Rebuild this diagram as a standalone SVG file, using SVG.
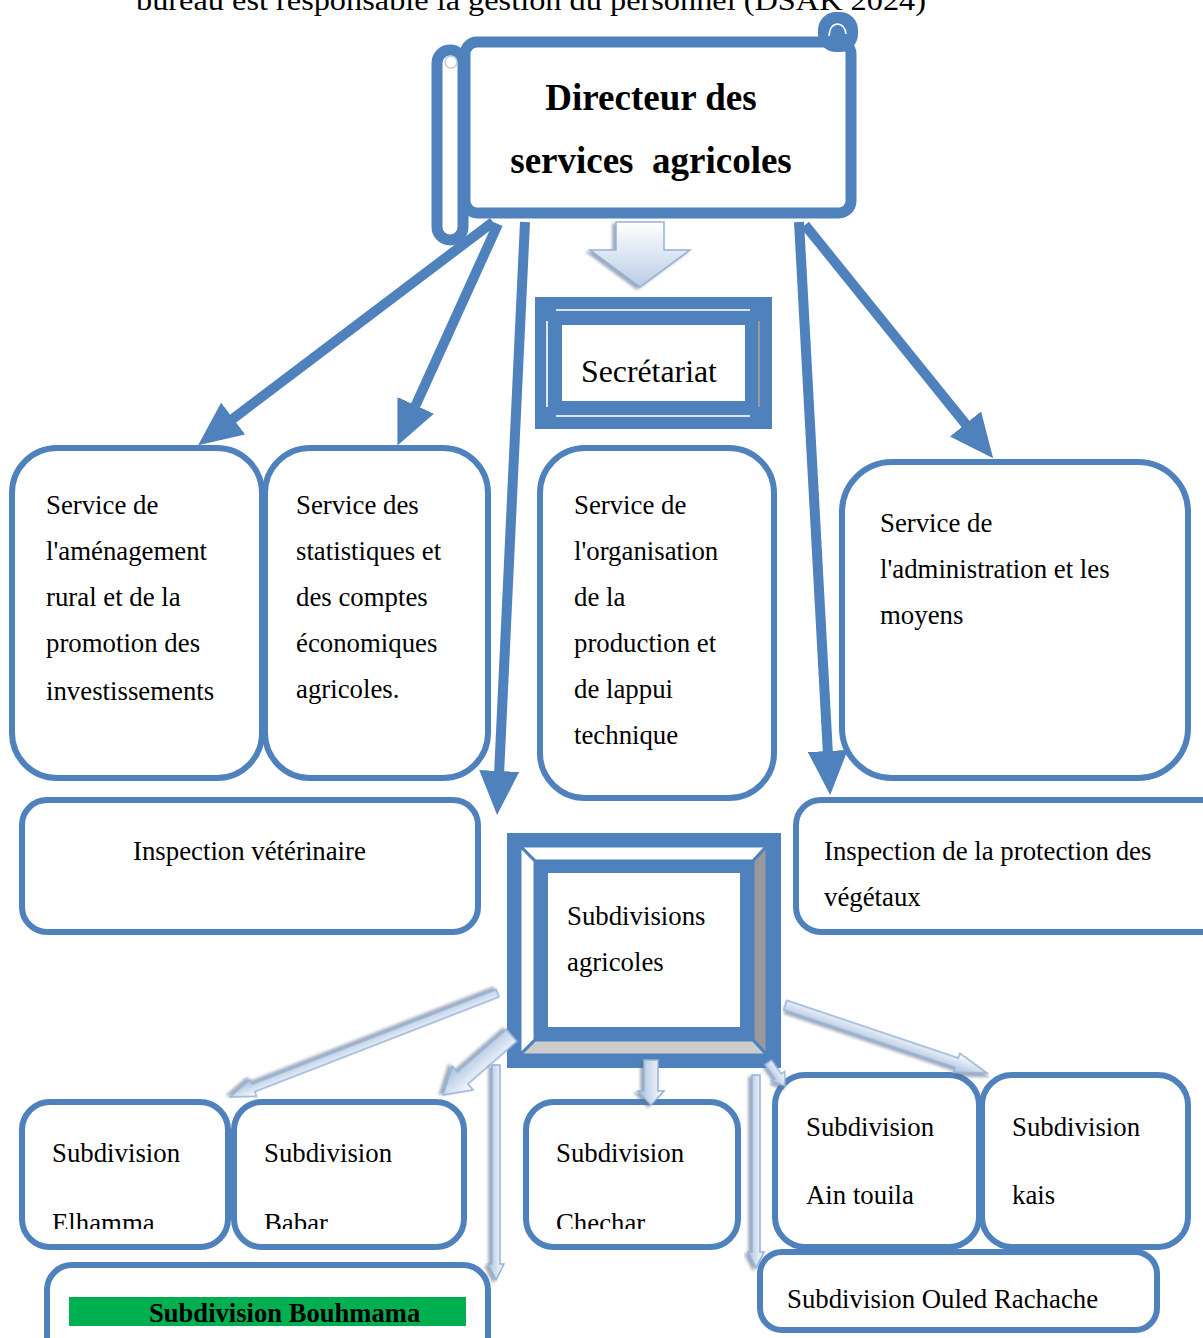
<svg xmlns="http://www.w3.org/2000/svg" width="1203" height="1338" viewBox="0 0 1203 1338">
<style>
text{font-family:"Liberation Serif","Times New Roman",serif;fill:#000}
.t{font-size:26.8px}
.b{font-weight:bold}
.box{fill:#fff;stroke:#4F81BD;stroke-width:6}
.thick{stroke-width:11}
.blue{fill:#4F81BD}
.ln{stroke:#4F81BD;stroke-width:10;fill:none;marker-end:url(#hd)}
.la{fill:url(#lg);stroke:#95B3D7;stroke-width:1.5;filter:url(#sh)}
.lb{fill:url(#lg2);stroke:#95B3D7;stroke-width:1.5;filter:url(#sh)}
</style>
<defs>
<marker id="hd" markerUnits="userSpaceOnUse" markerWidth="44" markerHeight="40" viewBox="0 0 44 40" refX="4" refY="20" orient="auto">
<path d="M0,0 L44,20 L0,40 z" fill="#4F81BD"/>
</marker>
<linearGradient id="lg" x1="0" y1="0" x2="0" y2="1">
<stop offset="0" stop-color="#ffffff"/>
<stop offset="1" stop-color="#A7BFDE"/>
</linearGradient>
<linearGradient id="lg2" x1="1" y1="0" x2="0" y2="0">
<stop offset="0" stop-color="#B9CDE5"/>
<stop offset="1" stop-color="#ffffff"/>
</linearGradient>
<filter id="sh" x="-20%" y="-20%" width="140%" height="140%">
<feDropShadow dx="2" dy="3" stdDeviation="1.5" flood-color="#5a6e8c" flood-opacity="0.6"/>
</filter>
<clipPath id="cl"><rect x="0" y="0" width="1203" height="1229"/></clipPath>
</defs>

<text x="136" y="10" font-size="30" textLength="790" lengthAdjust="spacingAndGlyphs">bureau est responsable la gestion du personnel (DSAK 2024)</text>

<g id="directeur">
<rect x="465" y="42" width="386" height="171" rx="12" class="box thick"/>
<rect x="818" y="12" width="40" height="40" rx="18" class="blue"/>
<path d="M829,36 Q830,24 838,24 Q845,25 846,34" fill="none" stroke="#fff" stroke-width="1.5"/>
<rect x="437" y="50" width="26" height="190" rx="13" class="box thick"/>
<circle cx="451" cy="62" r="6" fill="none" stroke="#B9CDE5" stroke-width="1.5"/>
<text x="651" y="110" font-size="37" class="b" text-anchor="middle">Directeur des</text>
<text x="651" y="173" font-size="37" class="b" text-anchor="middle" xml:space="preserve">services  agricoles</text>
</g>

<g id="secretariat">
<rect x="535" y="297" width="237" height="132" class="blue"/>
<line x1="556" y1="310" x2="750" y2="310" stroke="#DCE6F2" stroke-width="2"/>
<line x1="556" y1="416" x2="750" y2="416" stroke="#DCE6F2" stroke-width="2"/>
<line x1="547" y1="321" x2="547" y2="407" stroke="#DCE6F2" stroke-width="2"/>
<line x1="759" y1="321" x2="759" y2="407" stroke="#9a9a9a" stroke-width="2"/>
<rect x="562" y="325" width="183" height="76" fill="#fff"/>
<text x="581" y="382" font-size="31.8">Secrétariat</text>
</g>

<g id="service-amenagement">
<rect x="12" y="448" width="250" height="330" rx="45" class="box"/>
<text class="t" x="46" y="514">Service de</text>
<text class="t" x="46" y="560">l'aménagement</text>
<text class="t" x="46" y="606">rural et de la</text>
<text class="t" x="46" y="652">promotion des</text>
<text class="t" x="46" y="700">investissements</text>
</g>

<g id="service-statistiques">
<rect x="265" y="448" width="223" height="330" rx="45" class="box"/>
<text class="t" x="296" y="514">Service des</text>
<text class="t" x="296" y="560">statistiques et</text>
<text class="t" x="296" y="606">des comptes</text>
<text class="t" x="296" y="652">économiques</text>
<text class="t" x="296" y="698">agricoles.</text>
</g>

<g id="service-organisation">
<rect x="540" y="448" width="234" height="350" rx="45" class="box"/>
<text class="t" x="574" y="514">Service de</text>
<text class="t" x="574" y="560">l'organisation</text>
<text class="t" x="574" y="606">de la</text>
<text class="t" x="574" y="652">production et</text>
<text class="t" x="574" y="698">de lappui</text>
<text class="t" x="574" y="744">technique</text>
</g>

<g id="service-administration">
<rect x="842" y="462" width="346" height="316" rx="50" class="box"/>
<text class="t" x="880" y="532">Service de</text>
<text class="t" x="880" y="578">l'administration et les</text>
<text class="t" x="880" y="624">moyens</text>
</g>

<g id="inspection-veterinaire">
<rect x="22" y="800" width="456" height="132" rx="25" class="box"/>
<text class="t" x="133" y="860">Inspection vétérinaire</text>
</g>

<g id="inspection-vegetaux">
<rect x="796" y="800" width="430" height="132" rx="25" class="box"/>
<text class="t" x="824" y="860">Inspection de la protection des</text>
<text class="t" x="824" y="906">végétaux</text>
</g>

<g id="subdivisions-agricoles">
<rect x="507" y="833" width="274" height="235" class="blue"/>
<g stroke="#4F81BD" stroke-width="3" stroke-linejoin="miter">
<polygon points="520,846 767,846 753,861 535,861" fill="#fff"/>
<polygon points="520,846 535,861 535,1040 520,1055" fill="#fff"/>
<polygon points="767,846 767,1055 753,1040 753,861" fill="#999"/>
<polygon points="520,1055 535,1040 753,1040 767,1055" fill="#ccc"/>
</g>
<rect x="535" y="861" width="218" height="179" class="blue"/>
<rect x="548" y="873" width="192" height="154" fill="#fff"/>
<text class="t" x="567" y="925">Subdivisions</text>
<text class="t" x="567" y="971">agricoles</text>
</g>

<g id="sub-elhamma">
<rect x="22" y="1102" width="206" height="145" rx="28" class="box"/>
<text class="t" x="52" y="1162">Subdivision</text>
<text class="t" x="52" y="1232" clip-path="url(#cl)">Elhamma</text>
</g>

<g id="sub-babar">
<rect x="234" y="1102" width="230" height="145" rx="28" class="box"/>
<text class="t" x="264" y="1162">Subdivision</text>
<text class="t" x="264" y="1232" clip-path="url(#cl)">Babar</text>
</g>

<g id="sub-chechar">
<rect x="526" y="1102" width="212" height="145" rx="28" class="box"/>
<text class="t" x="556" y="1162">Subdivision</text>
<text class="t" x="556" y="1232" clip-path="url(#cl)">Chechar</text>
</g>

<g id="sub-aintouila">
<rect x="775" y="1075" width="204" height="172" rx="30" class="box"/>
<text class="t" x="806" y="1136">Subdivision</text>
<text class="t" x="806" y="1204">Ain touila</text>
</g>

<g id="sub-kais">
<rect x="982" y="1075" width="206" height="172" rx="30" class="box"/>
<text class="t" x="1012" y="1136">Subdivision</text>
<text class="t" x="1012" y="1204">kais</text>
</g>

<g id="sub-bouhmama">
<rect x="47" y="1265" width="441" height="110" rx="25" class="box"/>
<rect x="69" y="1297" width="397" height="29" fill="#00B050"/>
<text class="b" font-size="26.6" x="149" y="1322">Subdivision Bouhmama</text>
</g>

<g id="sub-ouledrachache">
<rect x="760" y="1252" width="397" height="78" rx="22" class="box"/>
<text class="t" x="787" y="1308">Subdivision Ouled Rachache</text>
</g>

<g id="connectors">
<line class="ln" x1="493" y1="222" x2="230" y2="421"/>
<line class="ln" x1="498" y1="224" x2="414" y2="409"/>
<line class="ln" x1="525" y1="222" x2="499" y2="775"/>
<line class="ln" x1="799" y1="222" x2="828" y2="755"/>
<line class="ln" x1="805" y1="225" x2="968" y2="427"/>

<g transform="translate(640,287) rotate(90)"><polygon class="lb" points="0,0 -37,-50 -37,-24 -65,-24 -65,24 -37,24 -37,50"/></g>
<g transform="translate(230,1097) rotate(158.8)"><polygon class="la" points="0,0 -25,-9 -25,-4 -287,-4 -287,4 -25,4 -25,9"/></g>
<g transform="translate(443,1095) rotate(139)"><polygon class="la" points="0,0 -26,-16 -26,-8 -91,-8 -91,8 -26,8 -26,16"/></g>
<g transform="translate(496,1280) rotate(90)"><polygon class="la" points="0,0 -16,-8 -16,-4 -215,-4 -215,4 -16,4 -16,8"/></g>
<g transform="translate(651,1105) rotate(90)"><polygon class="la" points="0,0 -14,-13 -14,-7 -45,-7 -45,7 -14,7 -14,13"/></g>
<g transform="translate(756,1268) rotate(90)"><polygon class="la" points="0,0 -16,-8 -16,-4 -193,-4 -193,4 -16,4 -16,8"/></g>
<g transform="translate(785,1086) rotate(54.7)"><polygon class="la" points="0,0 -12,-8 -12,-4 -29,-4 -29,4 -12,4 -12,8"/></g>
<g transform="translate(987,1073) rotate(18.6)"><polygon class="la" points="0,0 -32,-10 -32,-5 -213,-5 -213,5 -32,5 -32,10"/></g>
</g>
</svg>
